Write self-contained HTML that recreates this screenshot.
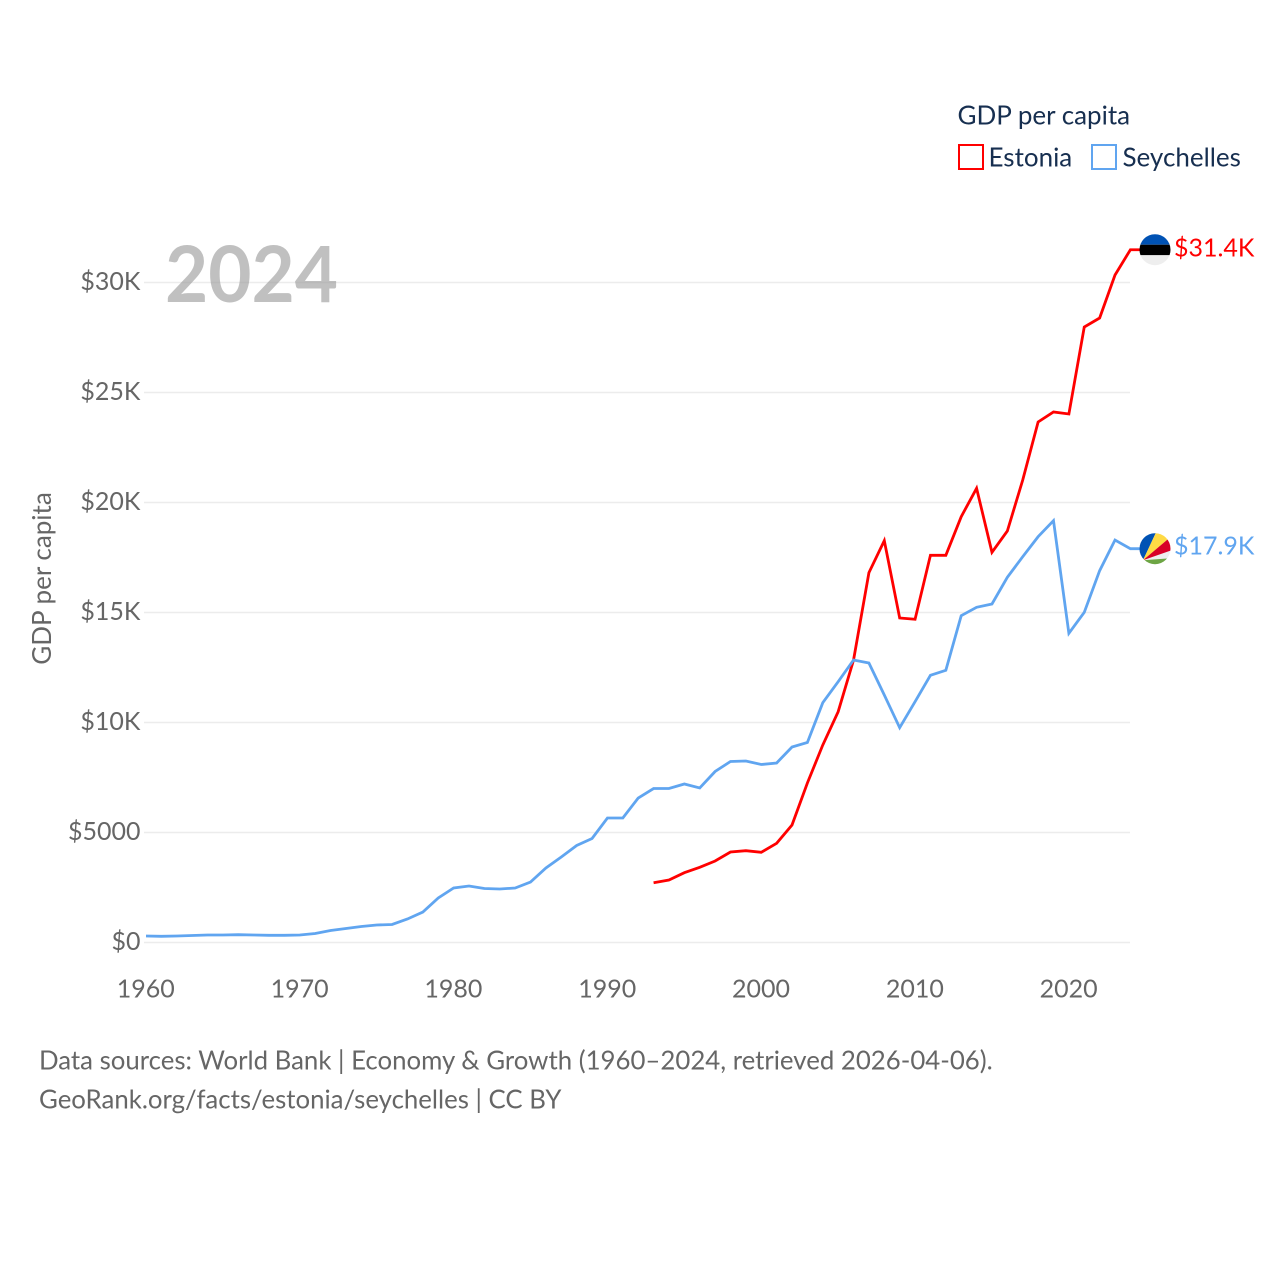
<!DOCTYPE html>
<html lang="en">
<head>
<meta charset="utf-8">
<title>GDP per capita: Estonia and Seychelles</title>
<style>
html,body{margin:0;padding:0;background:#fff;}
svg{display:block;}
text{font-family:"Lato","Carlito","Liberation Sans",sans-serif;}
</style>
</head>
<body>
<svg id="chart" xmlns="http://www.w3.org/2000/svg" width="1280" height="1280" viewBox="0 0 1280 1280">
  <defs>
    <clipPath id="clip-ee"><circle cx="0" cy="0" r="15.5"></circle></clipPath>
    <clipPath id="clip-sc"><circle cx="0" cy="0" r="15.5"></circle></clipPath>
  </defs>
  <g id="grid"></g>
  <text x="165" y="302" font-size="78" font-weight="700" fill="#999" fill-opacity="0.62" textLength="173" lengthAdjust="spacingAndGlyphs">2024</text>
  <g id="yticks"></g>
  <g id="xticks"></g>
  <text transform="translate(51,578.5) rotate(-90)" text-anchor="middle" font-size="26" fill="#666">GDP per capita</text>
  <g id="series"></g>

  <g id="flag-ee">
    <g clip-path="url(#clip-ee)">
      <rect x="-16" y="-16" width="32" height="11" fill="#0052b4"></rect>
      <rect x="-16" y="-5" width="32" height="10.5" fill="#000"></rect>
      <rect x="-16" y="5.5" width="32" height="11" fill="#eeeeee"></rect>
    </g>
  </g>
  <g id="flag-sc">
    <g clip-path="url(#clip-sc)">
      <rect x="-16" y="-16" width="32" height="32" fill="#eeeeee"></rect>
      <polygon points="-12,11.5 -16,11.5 -16,-16 0.9,-16" fill="#0052b4"></polygon>
      <polygon points="-12,11.5 0.9,-16 16,-16 16,-12.1" fill="#ffda44"></polygon>
      <polygon points="-12,11.5 16,-12.1 16,1.8" fill="#d80027"></polygon>
      <polygon points="-12,11.5 16,9.5 16,16 -12,16" fill="#6da544"></polygon>
    </g>
  </g>
  <text id="label-ee" x="1174" font-size="25" fill="#ff0000"></text>
  <text id="label-sc" x="1174" font-size="25" fill="#60a5f0"></text>

  <g>
    <text x="957.5" y="124.5" font-size="26" fill="#172f50">GDP per capita</text>
    <g>
      <rect x="959" y="145" width="24" height="24" fill="none" stroke="#ff0000" stroke-width="2"></rect>
      <text x="988.5" y="166.5" font-size="26" fill="#172f50">Estonia</text>
    </g>
    <g>
      <rect x="1092" y="145" width="24" height="24" fill="none" stroke="#60a5f0" stroke-width="2"></rect>
      <text x="1122.5" y="166.5" font-size="26" fill="#172f50">Seychelles</text>
    </g>
  </g>

  <text x="39" y="1069.5" font-size="25.8" fill="#666">Data sources: World Bank | Economy &amp; Growth (1960–2024, retrieved 2026-04-06).</text>
  <text x="39" y="1108.5" font-size="25.8" fill="#666">GeoRank.org/facts/estonia/seychelles | CC BY</text>
</svg>
<script>
const startYear = 1960;
const endYear = 2024;
const estoniaStartYear = 1993;
const xTickYears = [1960, 1970, 1980, 1990, 2000, 2010, 2020];
const xTickLabels = ["1960", "1970", "1980", "1990", "2000", "2010", "2020"];
const yTickValues = [0, 5000, 10000, 15000, 20000, 25000, 30000];
const yTickLabels = ["$0", "$5000", "$10K", "$15K", "$20K", "$25K", "$30K"];
const seychellesValues = [295, 282, 295, 318, 341, 341, 355, 341, 327, 327, 341, 409, 545, 636, 727, 795, 818, 1068, 1386, 2023, 2477, 2568, 2455, 2432, 2477, 2750, 3386, 3886, 4409, 4727, 5659, 5659, 6568, 7000, 7000, 7205, 7023, 7773, 8227, 8250, 8091, 8159, 8886, 9091, 10900, 11855, 12841, 12705, 11250, 9764, 10945, 12145, 12373, 14855, 15236, 15386, 16600, 17536, 18445, 19173, 14055, 15009, 16900, 18295, 17900];
const estoniaValues = [2718, 2841, 3173, 3418, 3705, 4114, 4173, 4100, 4509, 5341, 7250, 8977, 10491, 12841, 16809, 18264, 14750, 14691, 17600, 17600, 19355, 20645, 17736, 18705, 21023, 23659, 24114, 24023, 27977, 28386, 30341, 31490];

const SVG_NS = "http://www.w3.org/2000/svg";
function xScale(year) {
  return 146 + (year - startYear) * (1130.4 - 146) / (endYear - startYear);
}
function yScale(value) {
  return 942.5 - value * 660 / 30000;
}
function formatK(value) {
  return "$" + (Math.floor(value / 100) / 10).toFixed(1) + "K";
}
function makeEl(tag) {
  return document.createElementNS(SVG_NS, tag);
}

const grid = document.getElementById("grid");
const yticks = document.getElementById("yticks");
yTickValues.forEach(function (value, i) {
  const line = makeEl("line");
  
  
  line.setAttribute("x1", 144);
  line.setAttribute("x2", 1130);
  line.setAttribute("y1", yScale(value));
  line.setAttribute("y2", yScale(value));
  line.setAttribute("stroke", "#ececec");
  line.setAttribute("stroke-width", "1.4");
  grid.appendChild(line);

  const label = makeEl("text");
  
  
  label.setAttribute("x", 140.5);
  label.setAttribute("y", yScale(value) + 7.5);
  label.setAttribute("text-anchor", "end");
  label.setAttribute("font-size", "25");
  label.setAttribute("fill", "#666");
  label.textContent = yTickLabels[i];
  yticks.appendChild(label);
});

const xticks = document.getElementById("xticks");
xTickYears.forEach(function (year, i) {
  const label = makeEl("text");
  
  
  label.setAttribute("x", xScale(year) - 0.2);
  label.setAttribute("y", 997.5);
  label.setAttribute("text-anchor", "middle");
  label.setAttribute("font-size", "25");
  label.setAttribute("fill", "#666");
  label.textContent = xTickLabels[i];
  xticks.appendChild(label);
});

function pathFor(values, firstYear) {
  const pts = values.map(function (v, i) {
    return xScale(firstYear + i).toFixed(2) + "," + yScale(v).toFixed(2);
  });
  pts.push("1140," + yScale(values[values.length - 1]).toFixed(2));
  return "M" + pts.join("L");
}

const series = document.getElementById("series");
const estLine = makeEl("path");


estLine.setAttribute("d", pathFor(estoniaValues, estoniaStartYear));
estLine.setAttribute("fill", "none");
estLine.setAttribute("stroke", "#ff0000");
estLine.setAttribute("stroke-width", "2.8");
series.appendChild(estLine);

const seyLine = makeEl("path");


seyLine.setAttribute("d", pathFor(seychellesValues, startYear));
seyLine.setAttribute("fill", "none");
seyLine.setAttribute("stroke", "#60a5f0");
seyLine.setAttribute("stroke-width", "2.8");
series.appendChild(seyLine);

const lastEe = estoniaValues[estoniaValues.length - 1];
const lastSc = seychellesValues[seychellesValues.length - 1];
document.getElementById("flag-ee").setAttribute("transform", "translate(1155," + yScale(lastEe) + ")");
document.getElementById("flag-sc").setAttribute("transform", "translate(1155," + yScale(lastSc) + ")");
const labelEe = document.getElementById("label-ee");
labelEe.setAttribute("y", yScale(lastEe) + 7);
labelEe.textContent = formatK(lastEe);
const labelSc = document.getElementById("label-sc");
labelSc.setAttribute("y", yScale(lastSc) + 6);
labelSc.textContent = formatK(lastSc);
</script>
</body>
</html>
